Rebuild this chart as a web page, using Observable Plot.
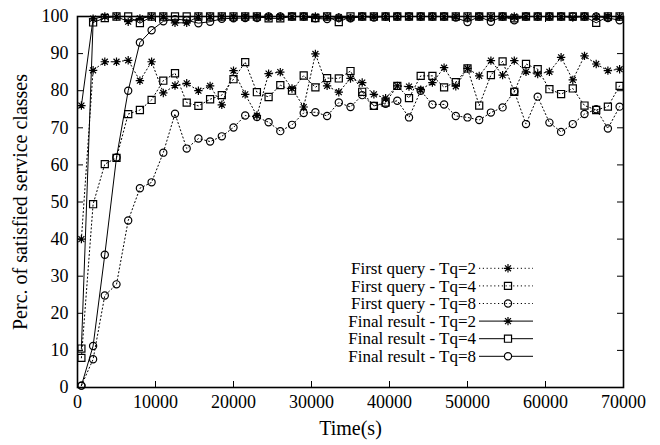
<!DOCTYPE html>
<html>
<head>
<meta charset="utf-8">
<script src="https://cdn.jsdelivr.net/npm/d3@7"></script>
<script src="https://cdn.jsdelivr.net/npm/@observablehq/plot@0.6"></script>
<style>
  html, body { margin: 0; padding: 0; background: #fff; }
  #chart { width: 660px; height: 445px; }
</style>
</head>
<body>
<div id="chart"></div>
<script>
// ---- data ----
const times = [500, 2000, 3500, 5000, 6500, 8000, 9500, 11000, 12500, 14000,
  15500, 17000, 18500, 20000, 21500, 23000, 24500, 26000, 27500, 29000,
  30500, 32000, 33500, 35000, 36500, 38000, 39500, 41000, 42500, 44000,
  45500, 47000, 48500, 50000, 51500, 53000, 54500, 56000, 57500, 59000,
  60500, 62000, 63500, 65000, 66500, 68000, 69500];

const firstTq2 = [40, 85.5, 87.8, 87.8, 88.2, 82.7, 87.8, 79.4, 81.4, 82,
  80, 81.3, 76.2, 85.4, 79, 73.3, 84.6, 85, 80.6, 75.6,
  89.9, 81.3, 79.6, 83.3, 82.2, 79, 78, 81.3, 81.1, 80.3,
  82.2, 86.2, 81.2, 86, 84, 88.1, 84.2, 88.1, 85.1, 84.5,
  85.1, 89, 82.9, 89.4, 87.2, 85.4, 85.8];

const firstTq4 = [8, 49.4, 60.2, 61.9, 73.7, 74.8, 77.5, 82.7, 84.7, 76.8,
  75.9, 77.7, 78.8, 83.1, 87.7, 79.6, 78.3, 81.5, 80, 84.1,
  80.9, 83.4, 83.3, 85.3, 79.7, 75.9, 76.8, 81.3, 78, 84,
  84, 80.9, 82.3, 86, 76, 84.2, 87.9, 79.7, 87.2, 85.8,
  80.4, 79.1, 80.6, 76, 74.8, 75.7, 81.3];

const firstTq8 = [0.5, 7.6, 24.8, 27.8, 45, 53.7, 55.3, 63.3, 73.8, 64.4,
  67.1, 66.3, 67.7, 70.1, 73.3, 72.9, 71.5, 69.1, 70.8, 74,
  74.2, 73.2, 76.8, 75.6, 78.8, 75.9, 76.5, 77.3, 72.8, 80,
  76.3, 76.3, 73.2, 72.8, 72.1, 74.1, 75.5, 79.8, 71, 78.4,
  71.4, 68.9, 71, 73.7, 75, 69.8, 75.7];

const finalTq2 = [76, 99.4, 100, 100, 98.6, 99.5, 100, 100, 98.3, 98.3,
  100, 100, 100, 100, 100, 100, 100, 100, 100, 100,
  100, 100, 99.8, 99.6, 100, 100, 100, 100, 100, 100,
  100, 100, 100, 100, 100, 100, 100, 100, 100, 100,
  100, 100, 99.7, 100, 100, 100, 100];

const finalTq4 = [10.5, 98.4, 99.6, 100, 100, 98.2, 100, 100, 100, 100,
  100, 100, 100, 100, 100, 100, 99.5, 99.5, 100, 100,
  99.6, 100, 98.5, 100, 100, 100, 100, 100, 100, 100,
  100, 100, 100, 100, 100, 100, 100, 99.5, 100, 100,
  100, 100, 100, 100, 98.3, 100, 100];

const finalTq8 = [0.5, 11.2, 35.8, 62, 80, 93, 96.3, 98.7, 99.3, 99,
  98.2, 98.6, 99.4, 99.5, 99.6, 99.6, 100, 100, 100, 100,
  99.5, 99.3, 99.7, 99.5, 100, 99.7, 100, 100, 100, 100,
  100, 100, 99.7, 98.5, 100, 98.6, 100, 99, 100, 100,
  100, 100, 100, 100, 100, 99.6, 99];

const xTicks = [0, 10000, 20000, 30000, 40000, 50000, 60000, 70000];
const yTicks = [0, 10, 20, 30, 40, 50, 60, 70, 80, 90, 100];

const seriesNames = [
  "First query - Tq=2", "First query - Tq=4", "First query - Tq=8",
  "Final result - Tq=2", "Final result - Tq=4", "Final result - Tq=8"
];

// ---- symbols ----
const star = {
  draw(context, size) {
    const r = Math.sqrt(size / Math.PI);
    const d = r * 0.7071;
    context.moveTo(-r, 0); context.lineTo(r, 0);
    context.moveTo(0, -r); context.lineTo(0, r);
    context.moveTo(-d, -d); context.lineTo(d, d);
    context.moveTo(-d, d); context.lineTo(d, -d);
  }
};
const square = {
  draw(context, size) {
    const h = Math.sqrt(size) / 2;
    context.rect(-h, -h, 2 * h, 2 * h);
  }
};
const circle = {
  draw(context, size) {
    const r = Math.sqrt(size / Math.PI);
    context.moveTo(r, 0);
    context.arc(0, 0, r, 0, 2 * Math.PI);
  }
};

const symbols = [star, square, circle, star, square, circle];
const radii = [4.2, 4, 3.6, 4.2, 4, 3.6];
const dotted = "1.2,2.6";

const allSeries = [firstTq2, firstTq4, firstTq8, finalTq2, finalTq4, finalTq8];
const tables = allSeries.map(vals => times.map((t, i) => ({t, v: vals[i]})));

const W = 660, H = 445;
const mL = 77, mR = 37, mT = 16, mB = 58;
const plotW = W - mL - mR, plotH = H - mT - mB;

const marks = [];
tables.forEach((tab, k) => {
  marks.push(Plot.line(tab, {
    x: "t", y: "v", stroke: "black", strokeWidth: 1,
    strokeDasharray: k < 3 ? dotted : null
  }));
});
tables.forEach((tab, k) => {
  marks.push(Plot.dot(tab, {
    x: "t", y: "v", symbol: symbols[k], r: radii[k],
    stroke: "black", fill: "none", strokeWidth: 1.2
  }));
});

const chart = Plot.plot({
  width: W, height: H,
  marginLeft: mL, marginRight: mR, marginTop: mT, marginBottom: mB,
  style: {fontFamily: "'Liberation Serif', 'DejaVu Serif', serif", fontSize: "18px", color: "black", background: "white"},
  x: {domain: [0, 70000]},
  y: {domain: [0, 100]},
  marks: [
    // inward ticks
    Plot.ruleX(xTicks, {insetTop: plotH - 6, stroke: "black", strokeWidth: 1}),
    Plot.ruleX(xTicks, {insetBottom: plotH - 6, stroke: "black", strokeWidth: 1}),
    Plot.ruleY(yTicks, {insetRight: plotW - 6, stroke: "black", strokeWidth: 1}),
    Plot.ruleY(yTicks, {insetLeft: plotW - 6, stroke: "black", strokeWidth: 1}),
    ...marks,
    Plot.frame({stroke: "black", strokeWidth: 1.6}),
    Plot.axisX(xTicks, {tickSize: 0, tickPadding: 8, label: null, tickFormat: d => String(d), fontSize: 18}),
    Plot.axisY(yTicks, {tickSize: 0, tickPadding: 9, label: null, tickFormat: d => String(d), fontSize: 18}),
    Plot.text(["Time(s)"], {frameAnchor: "bottom", dy: 47, fontSize: 20, textAnchor: "middle"}),
    Plot.text(["Perc. of satisfied service classes"], {frameAnchor: "left", dx: -57, rotate: -90, fontSize: 20, textAnchor: "middle"})
  ]
});

document.getElementById("chart").appendChild(chart);

// ---- legend ----
const svg = d3.select(chart.tagName.toLowerCase() === "svg" ? chart : chart.querySelector("svg"));
const lg = svg.append("g").attr("class", "legend");
const rowY0 = 268.3, rowDy = 17.6, textRight = 476, lineX1 = 479, lineX2 = 533, symX = 508;
seriesNames.forEach((name, k) => {
  const y = rowY0 + k * rowDy;
  lg.append("text")
    .attr("x", textRight).attr("y", y).attr("dy", "0.34em")
    .attr("text-anchor", "end")
    .attr("font-size", 17)
    .attr("fill", "black")
    .text(name);
  lg.append("line")
    .attr("x1", lineX1).attr("x2", lineX2).attr("y1", y).attr("y2", y)
    .attr("stroke", "black").attr("stroke-width", 1)
    .attr("stroke-dasharray", k < 3 ? dotted : null);
  const path = d3.path();
  symbols[k].draw(path, Math.PI * radii[k] * radii[k]);
  lg.append("path")
    .attr("d", path.toString())
    .attr("transform", `translate(${symX},${y})`)
    .attr("fill", k < 3 ? "none" : "white")
    .attr("stroke", "black").attr("stroke-width", 1.2);
});
</script>
</body>
</html>
